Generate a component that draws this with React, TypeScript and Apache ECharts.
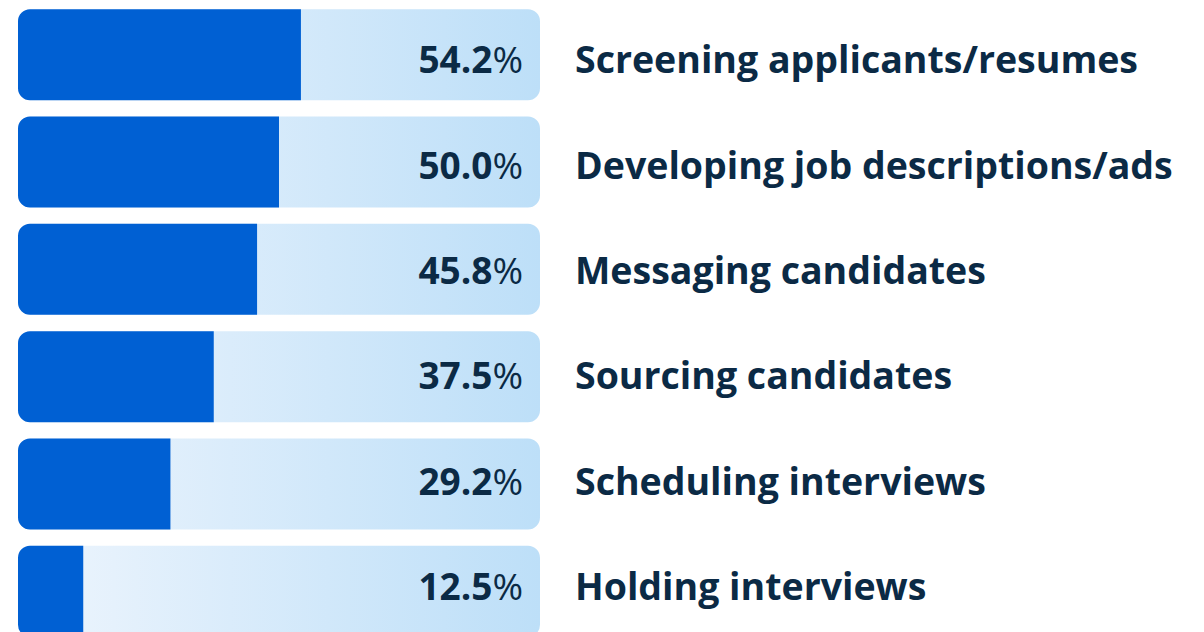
import React, { useEffect, useRef } from "react";
import * as echarts from "echarts";

const categories = [
  "Screening applicants/resumes",
  "Developing job descriptions/ads",
  "Messaging candidates",
  "Sourcing candidates",
  "Scheduling interviews",
  "Holding interviews",
];
const values = [54.2, 50.0, 45.8, 37.5, 29.2, 12.5];
const trackMax = 100;

const TEXT = "#0b2a45";

// texts are laid out on a slightly tighter pitch than the bars
const textShift = (i: number) => 4 - 2 * i;

export default function App() {
  const ref = useRef<HTMLDivElement>(null);
  useEffect(() => {
    if (!ref.current) return;
    const chart = echarts.init(ref.current, null, { renderer: "svg" });
    chart.setOption({
      animation: false,
      grid: { left: 18, width: 522, top: 1, height: 644, outerBoundsMode: "none" },
      xAxis: { type: "value", min: 0, max: trackMax, show: false },
      yAxis: {
        type: "category",
        data: categories,
        inverse: true,
        show: false,
      },
      series: [
        {
          type: "bar",
          data: values.map((_, i) => ({
            value: trackMax,
            label: { offset: [0, textShift(i)] },
          })),
          barWidth: 91,
          barGap: "-100%",
          silent: true,
          itemStyle: {
            borderRadius: 12,
            color: new echarts.graphic.LinearGradient(0, 0, 1, 0, [
              { offset: 0, color: "#eef5fd" },
              { offset: 1, color: "#bddff8" },
            ]),
          },
          label: {
            show: true,
            position: "insideRight",
            distance: 17,
            formatter: (p: any) => {
              const v = values[p.dataIndex].toFixed(1);
              return `{b|${v}}{p|%}`;
            },
            rich: {
              b: {
                color: TEXT,
                fontFamily: "Open Sans",
                fontWeight: "bold",
                fontSize: 37,
              },
              p: {
                color: TEXT,
                fontFamily: "Open Sans",
                fontWeight: "normal",
                fontSize: 37,
              },
            },
          },
          z: 1,
        },
        {
          type: "bar",
          data: values,
          barWidth: 91,
          silent: true,
          itemStyle: {
            color: "#0060d3",
            borderRadius: [12, 0, 0, 12],
          },
          z: 2,
        },
        {
          type: "bar",
          data: categories.map((_, i) => ({
            value: trackMax,
            label: { offset: [0, textShift(i)] },
          })),
          barWidth: 91,
          silent: true,
          itemStyle: { color: "rgba(0,0,0,0)" },
          label: {
            show: true,
            position: "right",
            distance: 35,
            formatter: (p: any) => categories[p.dataIndex],
            color: TEXT,
            fontFamily: "Open Sans",
            fontWeight: "bold",
            fontSize: 37.5,
          },
          z: 3,
        },
      ],
    });
    return () => chart.dispose();
  }, []);
  return (
    <div
      ref={ref}
      style={{ position: "absolute", left: 0, top: 0, width: 1204, height: 632 }}
    />
  );
}
